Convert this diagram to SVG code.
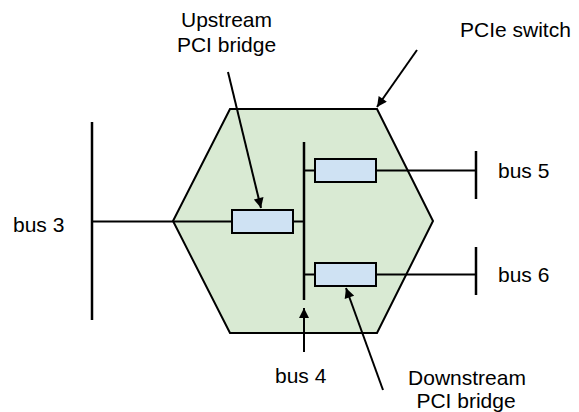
<svg xmlns="http://www.w3.org/2000/svg" width="579" height="412" viewBox="0 0 579 412">
  <style>
    .lbl { font-family: "Liberation Sans", Arial, sans-serif; font-size: 21px; fill: #000; }
    .wire { stroke: #000; stroke-width: 2; fill: none; }
    .bus { stroke: #000; stroke-width: 2.5; fill: none; }
    .ptr { stroke: #000; stroke-width: 2; fill: none; marker-end: url(#head); }
    .bridge { fill: #cfe2f3; stroke: #000; stroke-width: 2; }
  </style>
  <defs>
    <marker id="head" viewBox="0 0 10 10" refX="10" refY="5" markerWidth="6.5" markerHeight="5" orient="auto" markerUnits="strokeWidth">
      <path d="M0,0 L10,5 L0,10 z" fill="#000"/>
    </marker>
  </defs>

  <!-- switch body -->
  <g id="switch">
    <polygon points="230,109 377,109 433,221 377,333 230,333 173,221" fill="#d9ead3" stroke="#000" stroke-width="2"/>
  </g>

  <!-- buses and links -->
  <g id="connectors">
    <line class="bus" x1="92" y1="122" x2="92" y2="320"/>
    <line class="bus" x1="304" y1="142" x2="304" y2="300"/>
    <line class="bus" x1="476" y1="151" x2="476" y2="199"/>
    <line class="bus" x1="476" y1="247" x2="476" y2="295"/>
    <line class="wire" x1="92" y1="221.5" x2="232" y2="221.5"/>
    <line class="wire" x1="293" y1="221.5" x2="304" y2="221.5"/>
    <line class="wire" x1="304" y1="170.5" x2="315" y2="170.5"/>
    <line class="wire" x1="376" y1="170.5" x2="476" y2="170.5"/>
    <line class="wire" x1="304" y1="274.5" x2="315" y2="274.5"/>
    <line class="wire" x1="376" y1="274.5" x2="476" y2="274.5"/>
    <line class="ptr" x1="228" y1="72" x2="261" y2="208"/>
    <line class="ptr" x1="417" y1="50" x2="377" y2="107"/>
    <line class="ptr" x1="304" y1="352" x2="304" y2="308"/>
    <line class="ptr" x1="383" y1="390" x2="346" y2="288"/>
  </g>

  <g id="upstream-bridge">
    <rect class="bridge" x="232" y="210" width="61" height="23"/>
  </g>
  <g id="downstream-bridge-5">
    <rect class="bridge" x="315" y="159" width="61" height="23"/>
  </g>
  <g id="downstream-bridge-6">
    <rect class="bridge" x="315" y="263" width="61" height="23"/>
  </g>

  <g id="labels">
    <text class="lbl" x="226.5" y="27" text-anchor="middle">Upstream</text>
    <text class="lbl" x="226.5" y="52" text-anchor="middle">PCI bridge</text>
    <text class="lbl" x="460" y="37">PCIe switch</text>
    <text class="lbl" x="13" y="232">bus 3</text>
    <text class="lbl" x="498" y="178">bus 5</text>
    <text class="lbl" x="498" y="282">bus 6</text>
    <text class="lbl" x="275" y="383">bus 4</text>
    <text class="lbl" x="467" y="385" text-anchor="middle">Downstream</text>
    <text class="lbl" x="466" y="408" text-anchor="middle">PCI bridge</text>
  </g>
</svg>
